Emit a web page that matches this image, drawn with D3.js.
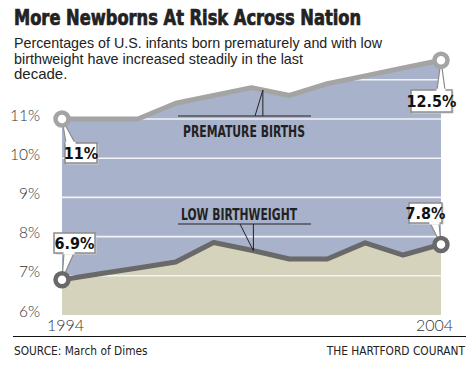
<!DOCTYPE html>
<html><head><meta charset="utf-8">
<script src="https://cdn.jsdelivr.net/npm/d3@7"></script>
<style>
html,body{margin:0;padding:0;background:#fff;}
svg{display:block;}
</style></head>
<body>
<svg id="chart" width="475" height="365"></svg>
<script>
// ---- data ----
const years = [1994,1995,1996,1997,1998,1999,2000,2001,2002,2003,2004];
const premature = [11.0,11.0,11.0,11.4,11.6,11.8,11.6,11.9,12.1,12.3,12.5];
const lowBirthweight = [6.9,7.05,7.2,7.35,7.85,7.65,7.43,7.43,7.84,7.53,7.8];
const yTicks = [6,7,8,9,10,11];
const gridTicks = [7,8,9,10,11,12];
const yearLabels = [1994,2004];
const subtitleLines = ["Percentages of U.S. infants born prematurely and with low","birthweight have increased steadily in the last","decade."];

const svg = d3.select("#chart");
const x = d3.scaleLinear().domain([1994,2004]).range([62,441]);
const y = d3.scaleLinear().domain([6,11]).range([315,119]);

const prem = years.map((yr,i)=>({yr, v:premature[i]}));
const lbw = years.map((yr,i)=>({yr, v:lowBirthweight[i]}));
function interp(series, yr){
  const i = Math.min(series.length-2, Math.floor(yr-1994));
  const t = yr-1994-i;
  return series[i].v*(1-t)+series[i+1].v*t;
}

// title
svg.append("text").attr("x",14).attr("y",25)
  .attr("font-family","'Liberation Sans Narrow','DejaVu Sans Condensed',sans-serif")
  .attr("font-weight","bold").attr("font-size",21).attr("fill","#222")
  .attr("stroke","#222").attr("stroke-width",0.7)
  .attr("textLength",347).attr("lengthAdjust","spacingAndGlyphs")
  .text("More Newborns At Risk Across Nation");

// subtitle
const subW = [368,289,null];
subtitleLines.forEach((s,i)=>{
  const t = svg.append("text").attr("x",14).attr("y",48+i*15.5)
    .attr("font-family","'Liberation Sans',Arial,sans-serif").attr("font-size",15).attr("fill","#222")
    .text(s);
  if(subW[i]) t.attr("textLength",subW[i]).attr("lengthAdjust","spacingAndGlyphs");
});

// areas
const areaP = d3.area().x(d=>x(d.yr)).y0(y(6)).y1(d=>y(d.v));
const areaL = d3.area().x(d=>x(d.yr)).y0(y(6)).y1(d=>y(d.v));
svg.append("defs").append("clipPath").attr("id","clipP")
  .append("path").attr("d",areaP(prem));
svg.append("path").attr("d",areaP(prem)).attr("fill","#a8b2ca");
svg.append("path").attr("d",areaL(lbw)).attr("fill","#d6d3bd");

// gridlines clipped to blue area
svg.append("g").attr("clip-path","url(#clipP)")
  .selectAll("line").data(gridTicks).join("line")
  .attr("x1",x(1994)).attr("x2",x(2004)+1)
  .attr("y1",d=>y(d)).attr("y2",d=>y(d))
  .attr("stroke","#f2f3f6").attr("stroke-width",1.6);

// lines
const line = d3.line().x(d=>x(d.yr)).y(d=>y(d.v));
svg.append("path").attr("d",line(prem)).attr("fill","none")
  .attr("stroke","#a4a4a4").attr("stroke-width",5).attr("stroke-linejoin","round");
svg.append("path").attr("d",line(lbw)).attr("fill","none")
  .attr("stroke","#696969").attr("stroke-width",5).attr("stroke-linejoin","round");

// y tick labels
svg.append("g").selectAll("text").data(yTicks).join("text")
  .attr("x",40).attr("y",d=>y(d)-4).attr("dy","0.36em")
  .attr("text-anchor","end")
  .attr("font-family","Lato,'Open Sans',sans-serif").attr("font-weight",300)
  .attr("font-size",15.5).attr("fill","#333")
  .text(d=>d+"%");

// year labels
svg.append("g").selectAll("text").data(yearLabels).join("text")
  .attr("x",d=>d===1994? x(d)-15 : x(d)+12)
  .attr("y",331)
  .attr("text-anchor",d=>d===1994?"start":"end")
  .attr("font-family","Lato,'Open Sans',sans-serif").attr("font-weight",300)
  .attr("font-size",16).attr("fill","#333")
  .text(d=>d);

// series labels with leader lines
const labFont = "'Liberation Sans Narrow','DejaVu Sans Condensed',sans-serif";
function seriesLabel(txt, tx, ty, tw, uy, tipYr, series, footX){
  const tipX = x(tipYr), tipY = y(interp(series, tipYr));
  svg.append("line").attr("x1",178).attr("x2",311).attr("y1",uy).attr("y2",uy)
    .attr("stroke","#222").attr("stroke-width",1);
  svg.append("path").attr("d",`M${footX},${uy}L${tipX},${tipY}L${tipX},${uy}`)
    .attr("fill","none").attr("stroke","#222").attr("stroke-width",1);
  svg.append("text").attr("x",tx).attr("y",ty)
    .attr("font-family",labFont).attr("font-weight","bold").attr("font-size",16.5)
    .attr("fill","#222").attr("textLength",tw).attr("lengthAdjust","spacingAndGlyphs")
    .text(txt);
}
seriesLabel("PREMATURE BIRTHS",183,137,122,116,1999.3,prem,255);
seriesLabel("LOW BIRTHWEIGHT",181,220,116,224,1999.05,lbw,240);

// endpoint circles
function endCircle(series, i, col){
  svg.append("circle").attr("cx",x(series[i].yr)).attr("cy",y(series[i].v)).attr("r",6.5)
    .attr("fill","#fff").attr("stroke",col).attr("stroke-width",4.5);
}

// callouts
function callout(series, i, bx, by, bw, bh, baseA, baseB, txt){
  const cx = x(series[i].yr), cy = y(series[i].v);
  const g = svg.append("g");
  g.append("path").attr("d",`M${cx},${cy}L${baseA[0]},${baseA[1]}L${baseB[0]},${baseB[1]}Z`)
    .attr("fill","#fff").attr("stroke","#8c8c8c").attr("stroke-width",1.2);
  g.append("rect").attr("x",bx+1.5).attr("y",by+1.5).attr("width",bw).attr("height",bh).attr("fill","#d0d0d0");
  g.append("rect").attr("x",bx).attr("y",by).attr("width",bw).attr("height",bh)
    .attr("fill","#fff").attr("stroke","#8c8c8c").attr("stroke-width",1.5);
  g.append("path").attr("d",`M${baseA[0]-0.5},${baseA[1]}L${baseB[0]+0.5},${baseB[1]}`)
    .attr("stroke","#fff").attr("stroke-width",2.5);
  g.append("text").attr("x",bx+bw/2).attr("y",by+bh/2).attr("dy","0.36em")
    .attr("text-anchor","middle").attr("font-family","'Liberation Sans Narrow','DejaVu Sans Condensed',sans-serif")
    .attr("font-weight","bold").attr("font-size",16).attr("fill","#111").text(txt);
}
const last = years.length-1;
callout(prem,0,65,143,32,20,[66,143],[75,143],"11%");
callout(prem,last,411,90,41,22,[437,90],[445,90],"12.5%");
callout(lbw,0,54,233,41,20,[64,253],[74,253],"6.9%");
callout(lbw,last,409,203,33,20,[430,223],[439,223],"7.8%");
endCircle(prem,0,"#a4a4a4");
endCircle(prem,last,"#a4a4a4");
endCircle(lbw,0,"#696969");
endCircle(lbw,last,"#696969");

// footer
const footFont = "'Liberation Sans Narrow','DejaVu Sans Condensed',sans-serif";
svg.append("line").attr("x1",13).attr("x2",466).attr("y1",336.5).attr("y2",336.5)
  .attr("stroke","#111").attr("stroke-width",1);
svg.append("text").attr("x",14).attr("y",355)
  .attr("font-family",footFont).attr("font-size",11.8).attr("fill","#222")
  .text("SOURCE: March of Dimes");
svg.append("text").attr("x",465).attr("y",355).attr("text-anchor","end")
  .attr("font-family",footFont).attr("font-size",11.8).attr("fill","#222")
  .text("THE HARTFORD COURANT");
</script>
</body></html>
